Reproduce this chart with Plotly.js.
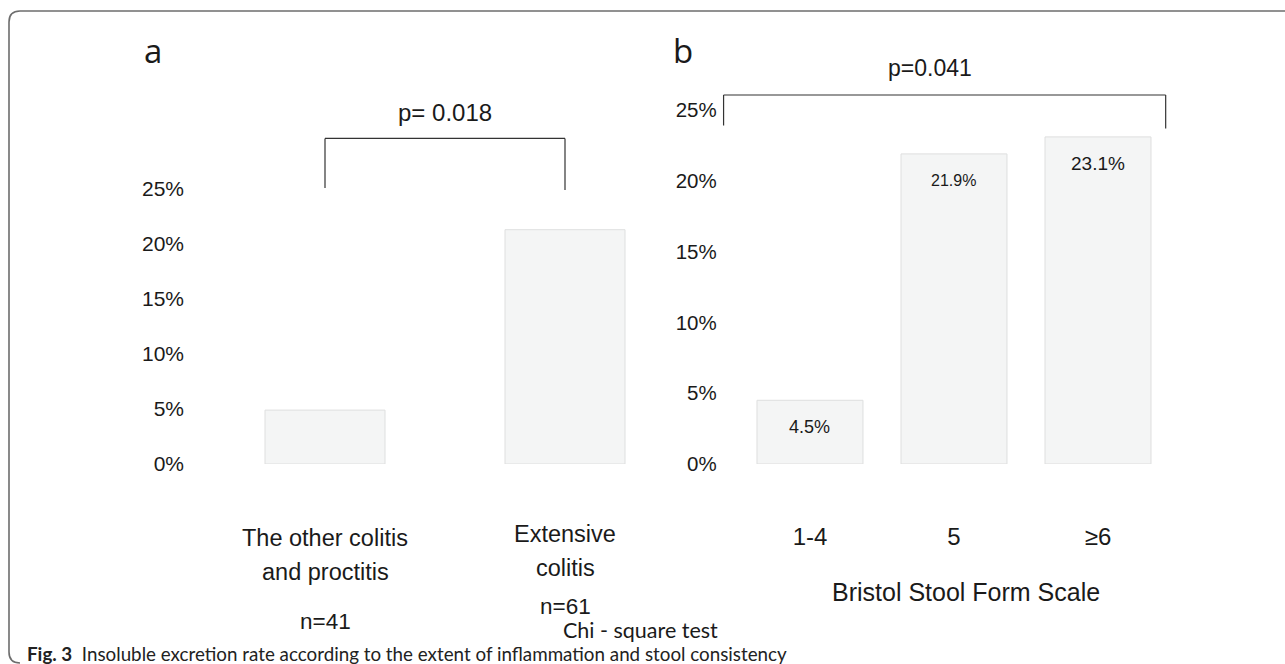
<!DOCTYPE html>
<html><head><meta charset="utf-8">
<script src="https://cdn.plot.ly/plotly-3.0.1.min.js"></script>
<style>html,body{margin:0;padding:0;background:#fff;} #chart{width:1285px;height:664px;}</style>
</head><body><div id="chart"></div>
<script>
// ---------- data ----------
const catsA = ["The other colitis and proctitis", "Extensive colitis"];
const labelLinesA = [["The other colitis", "and proctitis"], ["Extensive", "colitis"]];
const nLabelsA = ["n=41", "n=61"];
const valuesA = [4.9, 21.3];
const yTicksA = [0, 5, 10, 15, 20, 25];
const yTickTextA = ["0%", "5%", "10%", "15%", "20%", "25%"];
const pTextA = "p= 0.018";

const catsB = ["1-4", "5", "≥6"];
const valuesB = [4.5, 21.9, 23.1];
const valueLabelsB = ["4.5%", "21.9%", "23.1%"];
const yTicksB = [0, 5, 10, 15, 20, 25];
const yTickTextB = ["0%", "5%", "10%", "15%", "20%", "25%"];
const pTextB = "p=0.041";
const xTitleB = "Bristol Stool Form Scale";

const panelLabels = ["a", "b"];
const testText = "Chi - square test";
const captionBold = "Fig. 3";
const captionText = "Insoluble excretion rate according to the extent of inflammation and stool consistency";

// ---------- helpers ----------
const W = 1285, H = 664;
const px = x => x / W;
const py = y => 1 - y / H;
const ARIAL = "Liberation Sans, Arial, sans-serif";
const SANS2 = "Open Sans, Noto Sans, sans-serif";
const CAPF = "Lato, Open Sans, sans-serif";
const TXT = "#1a1a1a";

const barStyle = {color: "#f4f5f5", line: {color: "#dedfdf", width: 1}};

const traces = [
  {type: "bar", x: catsA, y: valuesA, xaxis: "x", yaxis: "y", width: 0.5,
   marker: barStyle, hoverinfo: "skip", showlegend: false},
  {type: "bar", x: catsB, y: valuesB, xaxis: "x2", yaxis: "y2", width: 0.736,
   marker: barStyle, hoverinfo: "skip", showlegend: false}
];

const annotations = [];
// panel letters
annotations.push({xref: "paper", yref: "paper", x: px(142), y: py(50), text: panelLabels[0],
  showarrow: false, xanchor: "left", yanchor: "middle", font: {family: SANS2, size: 33, color: TXT}});
annotations.push({xref: "paper", yref: "paper", x: px(671), y: py(50), text: panelLabels[1],
  showarrow: false, xanchor: "left", yanchor: "middle", font: {family: SANS2, size: 33, color: TXT}});
// p values
annotations.push({xref: "x", yref: "y", x: 0.5, y: 31.95, text: pTextA, showarrow: false,
  xanchor: "center", yanchor: "middle", font: {family: ARIAL, size: 24, color: TXT}});
annotations.push({xref: "x2", yref: "y2", x: 0.83, y: 27.97, text: pTextB, showarrow: false,
  xanchor: "center", yanchor: "middle", font: {family: ARIAL, size: 23, color: TXT}});
// category labels panel a
const lineYA = [[538, 572], [534, 568]];
const nYA = [621, 606];
labelLinesA.forEach((lines, i) => {
  lines.forEach((t, j) => {
    annotations.push({xref: "x", yref: "paper", x: i, y: py(lineYA[i][j]), text: t, showarrow: false,
      xanchor: "center", yanchor: "middle", font: {family: ARIAL, size: 23.5, color: TXT}});
  });
  annotations.push({xref: "x", yref: "paper", x: i, y: py(nYA[i]), text: nLabelsA[i], showarrow: false,
    xanchor: "center", yanchor: "middle", borderpad: 0, font: {family: ARIAL, size: 22.5, color: TXT}});
});
// value labels panel b
const valSizes = [18, 16, 19];
valuesB.forEach((v, i) => {
  annotations.push({xref: "x2", yref: "y2", x: i, y: v, yshift: -27, text: valueLabelsB[i], showarrow: false,
    xanchor: "center", yanchor: "middle", font: {family: ARIAL, size: valSizes[i], color: TXT}});
});
// x title panel b
annotations.push({xref: "paper", yref: "paper", x: px(966), y: py(592), text: xTitleB, showarrow: false,
  xanchor: "center", yanchor: "middle", font: {family: ARIAL, size: 25, color: TXT}});
// test
annotations.push({xref: "paper", yref: "paper", x: px(640), y: py(630), text: testText, showarrow: false,
  xanchor: "center", yanchor: "middle", borderpad: 0, font: {family: CAPF, size: 21.5, color: TXT}});
// caption
annotations.push({xref: "paper", yref: "paper", x: px(26), y: py(653), xanchor: "left", yanchor: "middle",
  text: "<b>" + captionBold + "</b>  " + captionText, showarrow: false, borderpad: 0,
  font: {family: CAPF, size: 18.8, color: "#222"}});

const brk = {color: "#333", width: 1.2};
const shapes = [
  // bracket a
  {type: "line", xref: "x", yref: "y", x0: 0, x1: 1, y0: 29.6, y1: 29.6, line: brk},
  {type: "line", xref: "x", yref: "y", x0: 0, x1: 0, y0: 25.1, y1: 29.6, line: brk},
  {type: "line", xref: "x", yref: "y", x0: 1, x1: 1, y0: 24.9, y1: 29.6, line: brk},
  // bracket b
  {type: "line", xref: "x2", yref: "y2", x0: -0.6, x1: 2.47, y0: 26.06, y1: 26.06, line: brk},
  {type: "line", xref: "x2", yref: "y2", x0: -0.6, x1: -0.6, y0: 23.9, y1: 26.06, line: brk},
  {type: "line", xref: "x2", yref: "y2", x0: 2.47, x1: 2.47, y0: 23.7, y1: 26.06, line: brk},
  // frame
  {type: "path", xref: "paper", yref: "paper", layer: "below",
   path: `M ${px(1300)},${py(11)} L ${px(20)},${py(11)} Q ${px(9)},${py(11)} ${px(9)},${py(22)} L ${px(9)},${py(652)} Q ${px(9)},${py(663)} ${px(20)},${py(663)}`,
   line: {color: "#6d6d6d", width: 1.6}}
];

const axBase = {showgrid: false, zeroline: false, showline: false, ticks: "", fixedrange: true};

const layout = {
  width: W, height: H, margin: {l: 0, r: 0, t: 0, b: 0, pad: 0},
  paper_bgcolor: "#fff", plot_bgcolor: "rgba(0,0,0,0)",
  showlegend: false, bargap: 0,
  xaxis: Object.assign({}, axBase, {domain: [px(205), px(685)], range: [-0.5, 1.5], type: "category",
    showticklabels: false, anchor: "y"}),
  yaxis: Object.assign({}, axBase, {domain: [py(464), py(90)], range: [0, 34], tickmode: "array",
    tickvals: yTicksA, ticktext: yTickTextA, ticklabelstandoff: 20, anchor: "x",
    tickfont: {family: ARIAL, size: 21, color: TXT}}),
  xaxis2: Object.assign({}, axBase, {domain: [px(720.7), px(1170)], range: [-0.62, 2.5], type: "category",
    anchor: "y2", ticklabelstandoff: 56, tickfont: {family: ARIAL, size: 24, color: TXT}}),
  yaxis2: Object.assign({}, axBase, {domain: [py(464), py(39.2)], range: [0, 30], tickmode: "array",
    tickvals: yTicksB, ticktext: yTickTextB, ticklabelstandoff: 3, anchor: "x2",
    tickfont: {family: ARIAL, size: 20.5, color: TXT}}),
  annotations: annotations,
  shapes: shapes
};

Plotly.newPlot("chart", traces, layout, {displayModeBar: false, staticPlot: true});
</script>
</body></html>
